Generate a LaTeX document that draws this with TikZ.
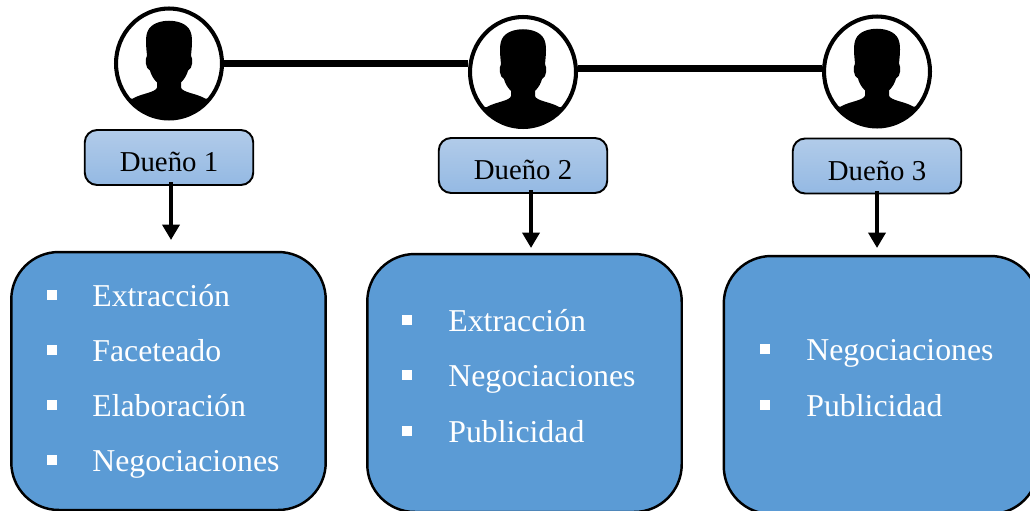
\documentclass[tikz,border=0pt]{standalone}
\usepackage{fontspec}
\setmainfont{Liberation Serif}
\usetikzlibrary{arrows.meta,shapes.geometric}

\definecolor{azulcaja}{HTML}{5B9BD5}
\definecolor{azularriba}{HTML}{B1CBE9}
\definecolor{azulabajo}{HTML}{94B9E3}

\tikzset{
	silueta/.pic={
		\clip (0,0) ellipse (54 and 56);
		\fill (-60,60) -- (-60,38) -- (-36,35) .. controls (-28,30) and (-13,29) .. (-12,24)
			-- (-12,19) .. controls (-16,15) and (-18,11) .. (-19,7)
			.. controls (-24,5) and (-24,-5) .. (-22,-8)
			.. controls (-23,-18) and (-24,-27) .. (-21,-33)
			.. controls (-15,-46) and (15,-46) .. (21,-33)
			.. controls (24,-27) and (23,-18) .. (22,-8)
			.. controls (24,-5) and (24,5) .. (19,7)
			.. controls (18,11) and (16,15) .. (12,19)
			-- (12,24) .. controls (13,29) and (28,30) .. (36,35)
			-- (60,38) -- (60,60) -- cycle;
	},
	persona/.style={draw,ellipse,line width=2.3pt,minimum width=2.12cm,minimum height=2.2cm,inner sep=0pt},
	dueno/.style={draw,line width=1.1pt,rounded corners=7pt,top color=azularriba,bottom color=azulabajo,
		minimum width=3.37cm,minimum height=1.1cm,inner sep=0pt,text height=16pt,text depth=0pt,
		font=\fontsize{16.4}{20}\selectfont},
	caja/.style={draw,line width=1.4pt,fill=azulcaja,rounded corners=0.95cm,minimum width=6.29cm,minimum height=5.16cm},
	item/.style={anchor=base west,inner sep=0pt,text=white,font=\fontsize{18.1}{22}\selectfont},
	vineta/.style={fill=white,minimum size=0.2cm,inner sep=0pt},
	linea/.style={line width=4pt},
	flecha/.style={line width=2.3pt,-{Triangle[length=0.31cm,width=0.34cm]}}
}

\begin{document}
\begin{tikzpicture}[x=0.02cm,y=-0.02cm]
	\useasboundingbox (0,0) rectangle (1030,510);

	% personas
	\pic at (169,63.5) {silueta};
	\pic at (523,72) {silueta};
	\pic at (877,71.5) {silueta};
	\node[persona] (per1) at (169,63.5) {};
	\node[persona] (per2) at (523,72) {};
	\node[persona] (per3) at (877,71.5) {};
	\draw[linea] (per1.east) -- (per1.east -| per2.west);
	\draw[linea] ([yshift=0.07cm]per2.east) -- ([yshift=0.07cm]per2.east -| per3.west);

	% duenos
	\node[dueno] (due1) at (169,157.5) {Dueño 1};
	\node[dueno] (due2) at (523,165.5) {Dueño 2};
	\node[dueno] (due3) at (877,166) {Dueño 3};
	\coordinate (fin1) at (171,240);
	\coordinate (fin2) at (531,248);
	\coordinate (fin3) at (877,248);
	\draw[flecha] ([yshift=2pt]fin1 |- due1.south) -- (fin1);
	\draw[flecha] ([yshift=2pt]fin2 |- due2.south) -- (fin2);
	\draw[flecha] ([yshift=2pt]fin3 |- due3.south) -- (fin3);

	% cajas
	\node[caja] (caja1) at (168.5,381) {};
	\node[caja] (caja2) at (524.5,383) {};
	\node[caja] (caja3) at (881,385) {};

	\node[vineta] (v11) at (52,295) {};
	\node[item] (t11) at (92,306) {Extracción};
	\node[vineta] (v12) at (52,350) {};
	\node[item] (t12) at (92,361) {Faceteado};
	\node[vineta] (v13) at (52,405) {};
	\node[item] (t13) at (92,416) {Elaboración};
	\node[vineta] (v14) at (52,460) {};
	\node[item] (t14) at (92,471) {Negociaciones};

	\node[vineta] (v21) at (407,320) {};
	\node[item] (t21) at (448,331) {Extracción};
	\node[vineta] (v22) at (407,375) {};
	\node[item] (t22) at (448,386) {Negociaciones};
	\node[vineta] (v23) at (407,431) {};
	\node[item] (t23) at (448,442) {Publicidad};

	\node[vineta] (v31) at (765,349) {};
	\node[item] (t31) at (806,360) {Negociaciones};
	\node[vineta] (v32) at (765,405) {};
	\node[item] (t32) at (806,416) {Publicidad};
\end{tikzpicture}
\end{document}
